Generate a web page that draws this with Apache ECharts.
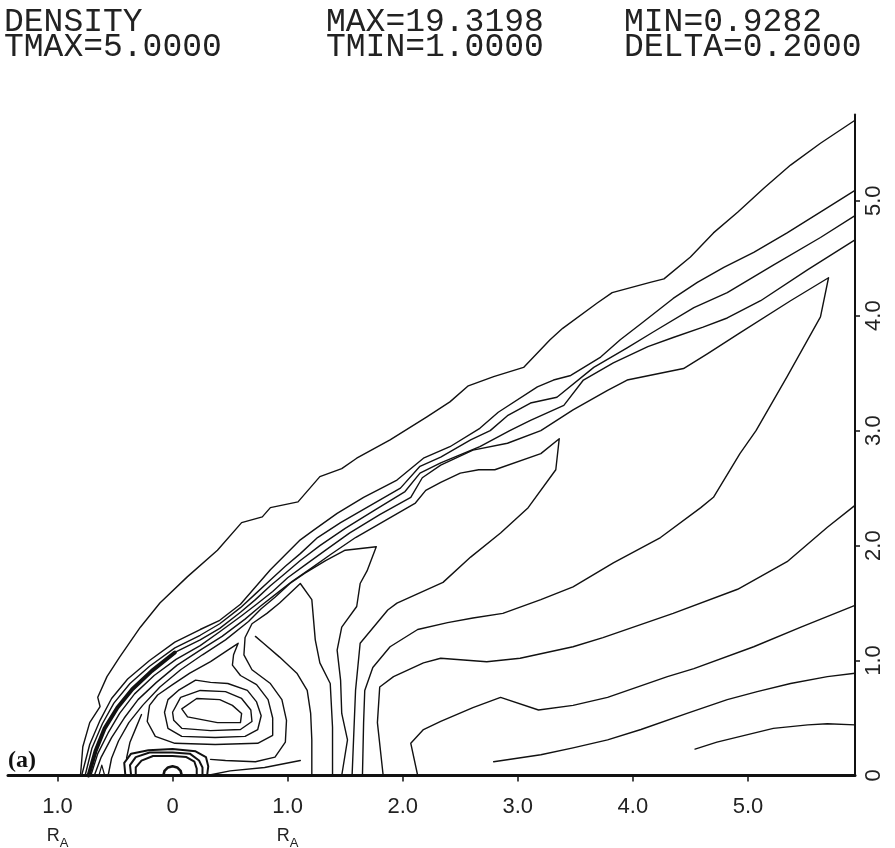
<!DOCTYPE html>
<html><head><meta charset="utf-8">
<script src="https://cdn.jsdelivr.net/npm/echarts@6/dist/echarts.min.js"></script>
<style>html,body{margin:0;padding:0;background:#fff}#c{width:895px;height:848px}</style>
</head><body><div id="c"></div>
<script>
// ---- axis ticks / labels ----
const xTickValues = [-1, 0, 1, 2, 3, 4, 5];
const yTickValues = [1, 2, 3, 4, 5];
const yLabelValues = [0, 1, 2, 3, 4, 5];
const headerLeft = ['DENSITY', 'TMAX=5.0000'];
const headerMid = ['MAX=19.3198', 'TMIN=1.0000'];
const headerRight = ['MIN=0.9282', 'DELTA=0.2000'];
const panelLabel = '(a)';

// ---- contour lines (x, y in R_A units) ----
const outerShock = [[-0.80,0.00],[-0.78,0.25],[-0.72,0.46],[-0.63,0.60],[-0.65,0.68],[-0.57,0.86],[-0.46,1.03],[-0.28,1.29],[-0.11,1.50],[0.13,1.73],[0.39,1.96],[0.60,2.20],[0.78,2.25],[0.85,2.33],[1.09,2.38],[1.28,2.60],[1.47,2.67],[1.60,2.76],[1.89,2.92],[2.21,3.12],[2.41,3.25],[2.57,3.39],[2.79,3.47],[3.05,3.55],[3.28,3.79],[3.39,3.89],[3.69,4.11],[3.82,4.20],[4.15,4.29],[4.27,4.32],[4.50,4.51],[4.70,4.72],[4.91,4.90],[5.14,5.11],[5.37,5.31],[5.63,5.50],[5.93,5.70]];
const bandA = [[5.93,5.09],[5.66,4.92],[5.34,4.72],[5.05,4.55],[4.79,4.42],[4.56,4.29],[4.35,4.15],[4.07,3.93],[3.89,3.79],[3.72,3.64],[3.46,3.48],[3.31,3.44],[3.17,3.38],[2.83,3.16],[2.67,3.02],[2.41,2.86],[2.18,2.76],[1.95,2.57],[1.66,2.42],[1.43,2.28],[1.22,2.13],[1.11,2.05],[0.98,1.92],[0.85,1.79],[0.72,1.64],[0.59,1.49],[0.41,1.35],[0.24,1.27],[0.02,1.16],[-0.20,1.00],[-0.39,0.84],[-0.53,0.67],[-0.63,0.48],[-0.72,0.27],[-0.79,0.00]];
const bandB = [[5.93,4.87],[5.63,4.68],[5.22,4.44],[4.82,4.20],[4.53,4.07],[4.18,3.86],[3.95,3.72],[3.66,3.55],[3.34,3.29],[3.11,3.24],[2.91,3.13],[2.76,3.00],[2.59,2.92],[2.33,2.77],[2.15,2.69],[1.98,2.50],[1.72,2.35],[1.46,2.20],[1.26,2.07],[1.11,1.93],[0.98,1.82],[0.85,1.70],[0.72,1.58],[0.59,1.46],[0.41,1.32],[0.24,1.22],[0.02,1.11],[-0.20,0.95],[-0.37,0.80],[-0.51,0.63],[-0.61,0.45],[-0.70,0.24],[-0.76,0.00]];
const bandC = [[5.93,4.66],[5.52,4.40],[5.11,4.13],[4.82,3.98],[4.61,3.90],[4.35,3.81],[4.13,3.73],[3.83,3.59],[3.57,3.44],[3.40,3.22],[3.11,3.09],[2.93,3.00],[2.67,2.86],[2.33,2.72],[2.15,2.63],[2.02,2.47],[1.76,2.31],[1.50,2.15],[1.28,2.00],[1.11,1.87],[0.98,1.76],[0.85,1.65],[0.72,1.53],[0.59,1.42],[0.41,1.28],[0.24,1.18],[0.02,1.07],[-0.18,0.91],[-0.35,0.75],[-0.48,0.59],[-0.59,0.41],[-0.67,0.21],[-0.73,0.00]];
const bandDense = [[0.02,1.07],[-0.18,0.91],[-0.35,0.75],[-0.48,0.59],[-0.59,0.41],[-0.67,0.21],[-0.73,0.00]];
const contourD = [[1.65,0.00],[1.66,0.46],[1.67,0.74],[1.74,0.94],[1.89,1.12],[2.13,1.27],[2.39,1.33],[2.61,1.37],[2.87,1.41],[3.20,1.53],[3.48,1.64],[3.83,1.85],[4.24,2.07],[4.59,2.33],[4.70,2.42],[4.93,2.80],[5.07,3.00],[5.34,3.47],[5.63,3.99],[5.70,4.33],[5.37,4.13],[4.93,3.85],[4.65,3.67],[4.44,3.54],[3.95,3.44],[3.78,3.35],[3.48,3.18],[3.20,3.00],[2.91,2.89],[2.61,2.83],[2.33,2.70],[2.17,2.59],[2.07,2.42],[1.80,2.27],[1.54,2.11],[1.33,1.96],[1.15,1.83],[1.00,1.72],[0.87,1.60],[0.73,1.49],[0.60,1.39],[0.41,1.25],[0.24,1.13],[0.03,1.01],[-0.16,0.87],[-0.33,0.71],[-0.46,0.54],[-0.56,0.37],[-0.65,0.19],[-0.71,0.00]];
const contourE = [[1.56,0.00],[1.59,0.74],[1.63,1.15],[1.87,1.44],[1.95,1.50],[2.35,1.68],[2.59,1.90],[2.85,2.11],[3.09,2.33],[3.33,2.66],[3.36,2.93],[3.20,2.80],[2.80,2.66],[2.66,2.66],[2.50,2.63],[2.33,2.55],[2.20,2.48],[2.11,2.37],[1.85,2.22],[1.59,2.07],[1.37,1.92],[1.20,1.80],[1.04,1.69],[0.90,1.58],[0.76,1.47],[0.63,1.36],[0.43,1.21],[0.24,1.09],[0.04,0.96],[-0.14,0.81],[-0.30,0.66],[-0.42,0.50],[-0.53,0.33],[-0.62,0.16],[-0.68,0.00]];
const contourF = [[1.47,0.00],[1.52,0.31],[1.47,0.54],[1.46,0.83],[1.43,1.09],[1.47,1.29],[1.60,1.47],[1.63,1.67],[1.69,1.78],[1.77,1.99],[1.50,1.96],[1.33,1.87],[1.15,1.76],[1.02,1.67],[0.89,1.55],[0.77,1.45],[0.66,1.34],[0.46,1.18],[0.26,1.05],[0.07,0.92],[-0.11,0.77],[-0.26,0.61],[-0.38,0.46],[-0.47,0.30],[-0.53,0.15],[-0.56,0.00]];
const contourG = [[1.39,0.00],[1.39,0.42],[1.37,0.80],[1.28,0.98],[1.24,1.18],[1.21,1.53],[1.11,1.67],[0.93,1.50],[0.82,1.41],[0.69,1.32],[0.63,1.20],[0.62,1.05],[0.69,0.92],[0.85,0.80],[0.95,0.66],[0.99,0.48],[0.98,0.29],[0.89,0.16],[0.72,0.12],[0.46,0.13],[0.33,0.14]];
const contourM = [[0.72,1.21],[0.79,1.15],[0.93,1.03],[1.08,0.89],[1.17,0.74],[1.20,0.54],[1.21,0.31],[1.21,0.00]];
const right1 = [[5.93,2.35],[5.69,2.16],[5.34,1.86],[4.91,1.62],[4.35,1.41],[3.74,1.20],[3.48,1.12],[3.02,1.02],[2.73,0.99],[2.33,1.02],[2.18,0.98],[1.92,0.86],[1.80,0.77],[1.78,0.46],[1.83,0.00]];
const right2 = [[5.93,1.48],[5.46,1.29],[5.05,1.12],[4.53,0.93],[4.30,0.86],[3.78,0.68],[3.48,0.61],[3.18,0.57],[2.85,0.68],[2.61,0.59],[2.33,0.47],[2.18,0.40],[2.07,0.28],[2.13,0.00]];
const right3 = [[2.79,0.12],[3.20,0.18],[3.48,0.24],[3.78,0.31],[4.07,0.40],[4.47,0.54],[4.82,0.66],[5.08,0.73],[5.37,0.80],[5.69,0.86],[5.93,0.89]];
const right4 = [[4.54,0.23],[4.73,0.29],[5.22,0.41],[5.52,0.44],[5.69,0.45],[5.93,0.44]];
const loop0 = [[0.08,0.58],[0.21,0.67],[0.41,0.66],[0.52,0.61],[0.60,0.54],[0.59,0.46],[0.39,0.46],[0.13,0.51],[0.08,0.58]];
const loop1 = [[0.00,0.55],[0.07,0.68],[0.24,0.74],[0.46,0.73],[0.60,0.67],[0.68,0.57],[0.69,0.47],[0.59,0.40],[0.33,0.39],[0.08,0.41],[0.01,0.48],[0.00,0.55]];
const loop2 = [[-0.07,0.55],[-0.04,0.66],[0.05,0.74],[0.20,0.83],[0.33,0.81],[0.48,0.80],[0.65,0.74],[0.73,0.64],[0.77,0.52],[0.74,0.40],[0.63,0.34],[0.37,0.33],[0.08,0.34],[-0.04,0.41],[-0.07,0.55]];
const hookS = [[0.57,1.15],[0.53,1.05],[0.52,0.96],[0.59,0.87],[0.73,0.79],[0.83,0.66],[0.87,0.50],[0.87,0.35],[0.74,0.28],[0.37,0.27],[0.02,0.28],[-0.15,0.34],[-0.22,0.47],[-0.20,0.61],[-0.13,0.70],[0.00,0.79],[0.15,0.89],[0.33,0.99],[0.48,1.09],[0.57,1.15]];
const wedgeW = [[-0.27,0.53],[-0.32,0.41],[-0.37,0.29],[-0.40,0.15]];
const innerShock1 = [[-0.41,0.00],[-0.42,0.11],[-0.36,0.19],[-0.21,0.22],[0.00,0.23],[0.20,0.21],[0.29,0.16],[0.31,0.08],[0.30,0.00]];
const innerShock2 = [[-0.36,0.00],[-0.37,0.09],[-0.32,0.16],[-0.20,0.20],[0.00,0.20],[0.15,0.19],[0.23,0.13],[0.26,0.07],[0.26,0.00]];
const innerShock3 = [[-0.32,0.00],[-0.32,0.07],[-0.27,0.13],[-0.17,0.17],[0.00,0.17],[0.12,0.16],[0.19,0.12],[0.21,0.06],[0.21,0.00]];
const nearAxis = [[0.30,0.00],[0.50,0.04],[0.80,0.07],[1.11,0.13]];
const caret = [[-0.64,0.00],[-0.615,0.09],[-0.59,0.00]];
const body = [[-0.08,0.00],[-0.07,0.04],[-0.04,0.07],[0.00,0.08],[0.04,0.07],[0.07,0.04],[0.08,0.00]];

// ---- styles (kept separate from data) ----
const thin = 1.4;
const contourList = [
  {d: outerShock, w: thin}, {d: bandA, w: thin}, {d: bandB, w: thin}, {d: bandC, w: thin},
  {d: bandDense, w: 4}, {d: contourD, w: thin}, {d: contourE, w: thin}, {d: contourF, w: thin},
  {d: contourG, w: thin}, {d: contourM, w: thin}, {d: right1, w: thin}, {d: right2, w: thin},
  {d: right3, w: thin}, {d: right4, w: thin}, {d: loop0, w: thin}, {d: loop1, w: thin},
  {d: loop2, w: thin}, {d: hookS, w: thin}, {d: wedgeW, w: thin}, {d: innerShock1, w: 2},
  {d: innerShock2, w: 2}, {d: innerShock3, w: 2}, {d: nearAxis, w: thin}, {d: caret, w: 1.2},
  {d: body, w: 2.6}
];

const headFont = {fontFamily: 'Liberation Mono', fontSize: 33, fontWeight: 'normal', color: '#222', lineHeight: 25};
const axisFont = 'Liberation Sans';
const chart = echarts.init(document.getElementById('c'), null, {renderer: 'canvas'});
chart.setOption({
  animation: false,
  backgroundColor: '#fff',
  title: [
    {text: headerLeft.join('\n'), left: 4, top: 10, padding: 0, textStyle: headFont},
    {text: headerMid.join('\n'), left: 326, top: 10, padding: 0, textStyle: headFont},
    {text: headerRight.join('\n'), left: 624, top: 10, padding: 0, textStyle: headFont},
    {text: panelLabel, left: 8, top: 749, padding: 0,
     textStyle: {fontFamily: 'Liberation Serif', fontSize: 24, fontWeight: 'bold', color: '#111'}}
  ],
  grid: {left: 8, right: 40, top: 114.5, bottom: 72.5, containLabel: false, outerBoundsMode: 'none'},
  xAxis: {
    type: 'value', min: -1.43, max: 5.93,
    axisLine: {show: true, onZero: false, lineStyle: {color: '#111', width: 3}},
    axisTick: {show: true, customValues: xTickValues, length: 6, lineStyle: {color: '#111', width: 1.5}},
    splitLine: {show: false},
    axisLabel: {
      customValues: xTickValues, margin: 19, fontFamily: axisFont, fontSize: 22, color: '#222', lineHeight: 24,
      formatter: function (v) {
        const t = v === 0 ? '0' : Math.abs(v).toFixed(1);
        return Math.abs(v) === 1 ? t + '\n{r|R}{s|A}' : t;
      },
      rich: {
        r: {fontFamily: axisFont, fontSize: 18, color: '#222', lineHeight: 36},
        s: {fontFamily: axisFont, fontSize: 13, color: '#222', lineHeight: 36, padding: [14, 0, 0, 0]}
      }
    }
  },
  yAxis: {
    type: 'value', position: 'right', min: 0, max: 5.75,
    axisLine: {show: true, onZero: false, lineStyle: {color: '#111', width: 2}},
    axisTick: {show: true, customValues: yTickValues, length: 5, lineStyle: {color: '#111', width: 1.5}},
    splitLine: {show: false},
    axisLabel: {
      customValues: yLabelValues, rotate: 90, margin: 8, fontFamily: axisFont, fontSize: 22, color: '#222',
      formatter: function (v) { return v === 0 ? '0' : v.toFixed(1); }
    }
  },
  series: contourList.map(function (c) {
    return {
      type: 'line', data: c.d, showSymbol: false, symbol: 'none', silent: true, clip: false,
      lineStyle: {color: '#111', width: c.w, join: 'round', cap: 'round'}
    };
  })
});
</script>
</body></html>
